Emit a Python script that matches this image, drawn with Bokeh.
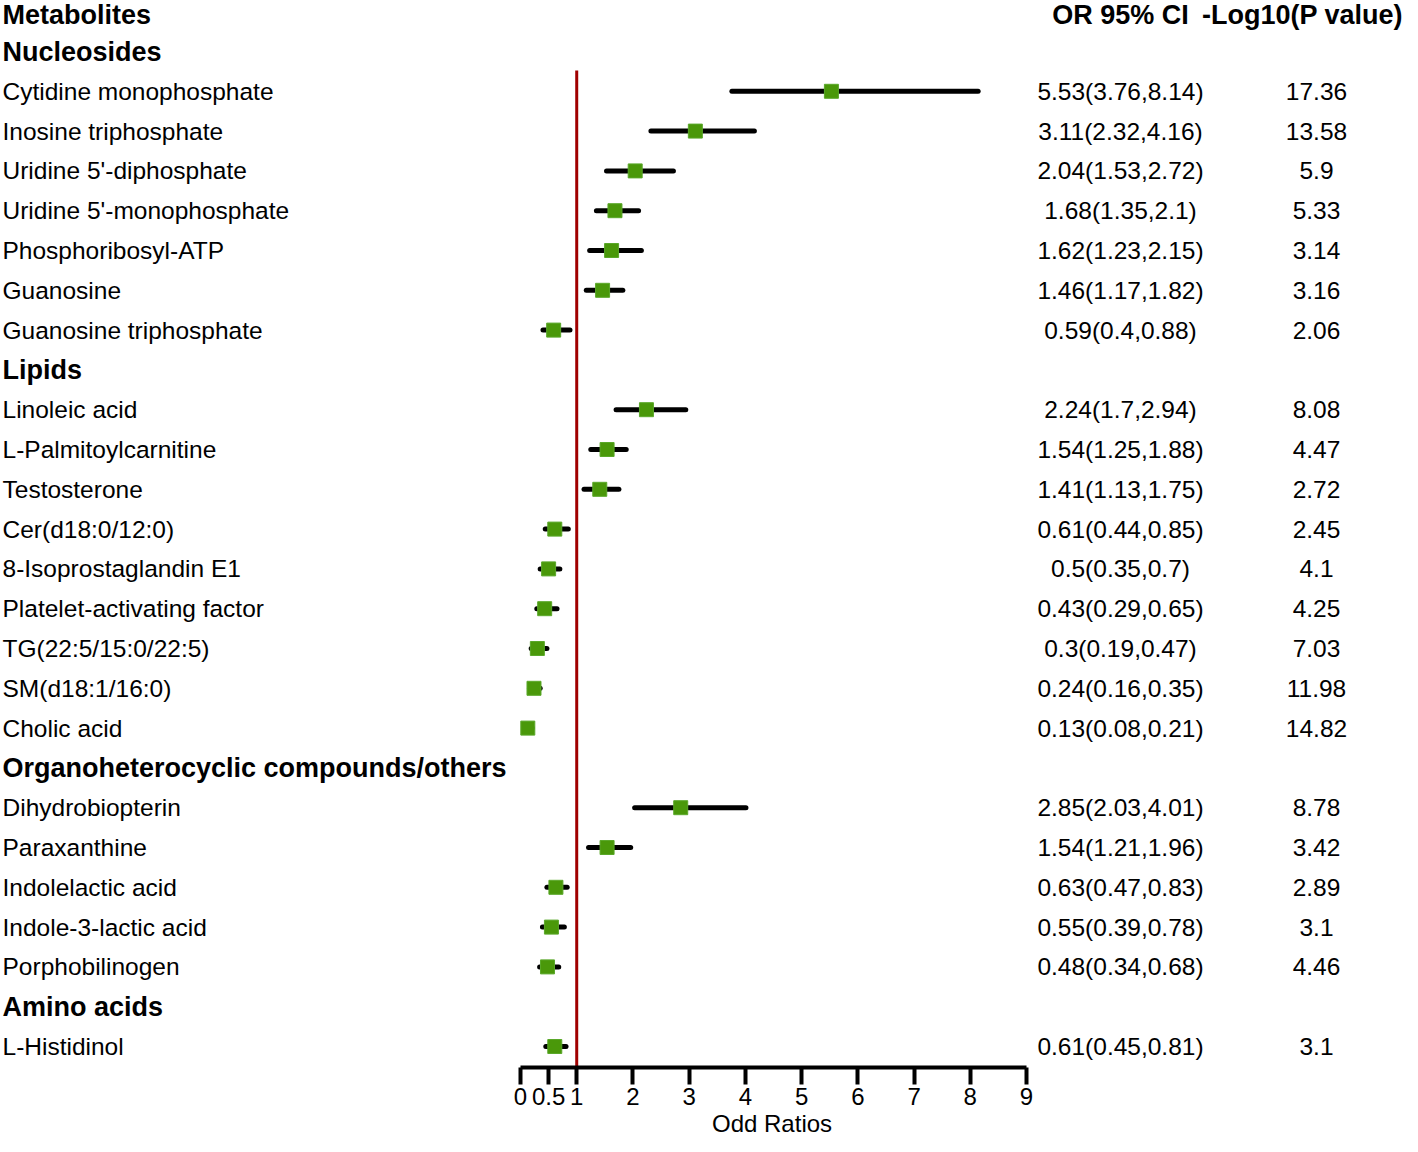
from bokeh.plotting import figure
from bokeh.models import ColumnDataSource, FixedTicker, Range1d, Title
from bokeh.core.properties import value
from bokeh.embed import file_html
from bokeh.resources import INLINE

# ---------------- data ----------------
groups = ["Nucleosides", "Lipids", "Organoheterocyclic compounds/others", "Amino acids"]

nuc_names = ["Cytidine monophosphate", "Inosine triphosphate", "Uridine 5'-diphosphate",
             "Uridine 5'-monophosphate", "Phosphoribosyl-ATP", "Guanosine", "Guanosine triphosphate"]
nuc_or = [5.53, 3.11, 2.04, 1.68, 1.62, 1.46, 0.59]
nuc_lo = [3.76, 2.32, 1.53, 1.35, 1.23, 1.17, 0.4]
nuc_hi = [8.14, 4.16, 2.72, 2.1, 2.15, 1.82, 0.88]
nuc_p = ["17.36", "13.58", "5.9", "5.33", "3.14", "3.16", "2.06"]

lip_names = ["Linoleic acid", "L-Palmitoylcarnitine", "Testosterone", "Cer(d18:0/12:0)",
             "8-Isoprostaglandin E1", "Platelet-activating factor", "TG(22:5/15:0/22:5)",
             "SM(d18:1/16:0)", "Cholic acid"]
lip_or = [2.24, 1.54, 1.41, 0.61, 0.5, 0.43, 0.3, 0.24, 0.13]
lip_lo = [1.7, 1.25, 1.13, 0.44, 0.35, 0.29, 0.19, 0.16, 0.08]
lip_hi = [2.94, 1.88, 1.75, 0.85, 0.7, 0.65, 0.47, 0.35, 0.21]
lip_p = ["8.08", "4.47", "2.72", "2.45", "4.1", "4.25", "7.03", "11.98", "14.82"]

org_names = ["Dihydrobiopterin", "Paraxanthine", "Indolelactic acid", "Indole-3-lactic acid",
             "Porphobilinogen"]
org_or = [2.85, 1.54, 0.63, 0.55, 0.48]
org_lo = [2.03, 1.21, 0.47, 0.39, 0.34]
org_hi = [4.01, 1.96, 0.83, 0.78, 0.68]
org_p = ["8.78", "3.42", "2.89", "3.1", "4.46"]

amino_names = ["L-Histidinol"]
amino_or = [0.61]
amino_lo = [0.45]
amino_hi = [0.81]
amino_p = ["3.1"]

x_ticks = [0, 0.5, 1, 2, 3, 4, 5, 6, 7, 8, 9]
x_title = "Odd Ratios"

# ---------------- layout ----------------
PX_PER_UNIT = (1026 - 520) / 9.0
ROW0 = 11.2
ROW_H = 39.8


def px2x(px):
    return (px - 520) / PX_PER_UNIT


def py2row(py):
    return (py - ROW0) / ROW_H


blocks = [
    (groups[0], nuc_names, nuc_or, nuc_lo, nuc_hi, nuc_p),
    (groups[1], lip_names, lip_or, lip_lo, lip_hi, lip_p),
    (groups[2], org_names, org_or, org_lo, org_hi, org_p),
    (groups[3], amino_names, amino_or, amino_lo, amino_hi, amino_p),
]

item_rows, item_names, item_or, item_lo, item_hi, item_p, item_ci = [], [], [], [], [], [], []
group_rows = []
r = 1
for gname, names, ors, los, his, ps in blocks:
    group_rows.append(r)
    r += 1
    for n, o, lo, hi, pv in zip(names, ors, los, his, ps):
        item_rows.append(r)
        item_names.append(n)
        item_or.append(o)
        item_lo.append(lo)
        item_hi.append(hi)
        item_p.append(pv)
        item_ci.append(f"{o:g}({lo:g},{hi:g})")
        r += 1

FONT = value("Liberation Sans")

W = 1402
frame_bottom = 1067

p = figure(
    frame_width=W, frame_height=frame_bottom,
    x_range=Range1d(px2x(0), px2x(W)),
    y_range=Range1d(py2row(frame_bottom), py2row(0)),
    output_backend="svg",
    toolbar_location=None,
    min_border_left=0, min_border_right=0, min_border_top=0,
    min_border_bottom=0,
    y_axis_location=None,
    outline_line_color=None,
)
p.grid.visible = False
p.background_fill_color = "white"
p.border_fill_color = "white"

# axis
ax = p.xaxis[0]
ax.ticker = FixedTicker(ticks=x_ticks)
ax.bounds = (0, 9)
ax.axis_line_width = 4
ax.axis_line_color = "black"
ax.major_tick_line_width = 4
ax.major_tick_line_color = "black"
ax.major_tick_out = 17
ax.major_tick_in = 0
ax.minor_tick_line_color = None
ax.major_label_standoff = 3
ax.major_label_text_font = "Liberation Sans"
ax.major_label_text_font_size = "24px"
ax.major_label_text_color = "black"

# axis title centred under the 0..9 axis span
title_w = 123
axis_center_px = 520 + 4.5 * PX_PER_UNIT
p.add_layout(Title(text=x_title, align="left", offset=axis_center_px - title_w / 2,
                   standoff=0, text_font="Liberation Sans", text_font_size="24px",
                   text_font_style="normal", text_color="black"), "below")

# reference line at OR = 1
p.segment(x0=[1], y0=[py2row(70)], x1=[1], y1=[py2row(frame_bottom)],
          line_color="#a00000", line_width=3)

src = ColumnDataSource(dict(y=item_rows, name=item_names, orv=item_or, lo=item_lo,
                            hi=item_hi, p=item_p, ci=item_ci))

p.segment(x0="lo", y0="y", x1="hi", y1="y", source=src, line_color="black",
          line_width=5, line_cap="round")
p.scatter(x="orv", y="y", source=src, marker="square", size=14,
          fill_color="#4a980a", line_color="#5aa82a", line_width=1)

NAME_X = px2x(2)
CI_X = px2x(1120)
P_X = px2x(1316)

p.text(x=NAME_X, y="y", text="name", source=src, text_font=FONT,
       text_font_size="24.5px", text_align="left", text_baseline="middle", text_color="black")
p.text(x=CI_X, y="y", text="ci", source=src, text_font=FONT,
       text_font_size="24.5px", text_align="center", text_baseline="middle", text_color="black")
p.text(x=P_X, y="y", text="p", source=src, text_font=FONT,
       text_font_size="24.5px", text_align="center", text_baseline="middle", text_color="black")

gsrc = ColumnDataSource(dict(y=group_rows, name=groups))
p.text(x=NAME_X, y="y", text="name", source=gsrc, text_font=FONT,
       text_font_size="27px", text_font_style="bold", text_align="left",
       text_baseline="middle", text_color="black")

hdr_y = py2row(14)
p.text(x=[NAME_X], y=[hdr_y], text=["Metabolites"], text_font=FONT,
       text_font_size="27px", text_font_style="bold", text_align="left",
       text_baseline="middle", text_color="black")
p.text(x=[CI_X], y=[hdr_y], text=["OR 95% CI"], text_font=FONT,
       text_font_size="27px", text_font_style="bold", text_align="center",
       text_baseline="middle", text_color="black")
p.text(x=[px2x(1302)], y=[hdr_y], text=["-Log10(P value)"], text_font=FONT,
       text_font_size="27px", text_font_style="bold", text_align="center",
       text_baseline="middle", text_color="black")

open("out.html", "w").write(file_html(p, INLINE))
